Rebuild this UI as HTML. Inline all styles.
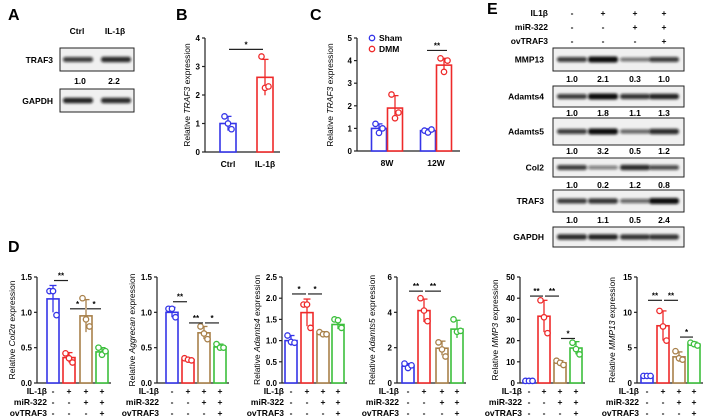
<!DOCTYPE html>
<html><head><meta charset="utf-8">
<style>
html,body{margin:0;padding:0;background:#fff}
svg{display:block;font-family:"Liberation Sans",Arial,sans-serif}
</style></head>
<body>
<svg id="fig" width="710" height="420" viewBox="0 0 710 420" xmlns="http://www.w3.org/2000/svg">
<defs>
<filter id="blur" x="-20%" y="-100%" width="140%" height="300%"><feGaussianBlur stdDeviation="1.2"/></filter>
</defs>
<g font-weight="bold" font-size="16" fill="#000">
<text x="8" y="20">A</text>
<text x="176" y="20">B</text>
<text x="310" y="20">C</text>
<text x="8" y="252">D</text>
<text x="487" y="14">E</text>
</g>
<g id="blots"></g>
<g id="charts"></g>
</svg>
<script>
// ---- data ----
const bCats=["Ctrl","IL-1β"];
const bMeans=[1.0,2.62];
const bPts=[[1.25,1.0,0.8],[3.35,2.25,2.3]];
const bErr=[0.25,0.63];
const cGroups=["8W","12W"];
const cSham=[1.0,0.9];
const cDMM=[1.9,3.8];
const cShamPts=[[1.2,0.8,1.0],[0.9,0.82,0.95]];
const cDMMPts=[[2.5,1.45,1.7],[4.1,3.5,4.0]];
const cShamErr=[0.2,0.08];
const cDMMErr=[0.55,0.3];
const dGenes=["Col2α","Aggrecan","Adamts4","Adamts5","MMP3","MMP13"];
const dMeans=[[1.19,0.36,0.95,0.44],[1.0,0.33,0.71,0.51],[1.0,1.66,1.17,1.38],[0.95,4.1,1.97,3.05],[1.0,31.5,9.5,16.5],[1.0,8.1,3.7,5.5]];
const dPts=[
[[1.3,1.3,0.96],[0.42,0.35,0.29],[1.2,0.9,0.8],[0.5,0.4,0.45]],
[[1.05,1.05,0.93],[0.35,0.33,0.32],[0.8,0.7,0.62],[0.55,0.5,0.5]],
[[1.12,0.97,0.95],[1.85,1.85,1.3],[1.2,1.15,1.15],[1.5,1.48,1.3]],
[[1.1,0.85,1.0],[4.8,4.1,3.5],[2.3,1.9,1.5],[3.6,2.9,2.95]],
[[1,1,1],[39,31,23.5],[10.5,9.5,8.5],[19,16,13.5]],
[[1,1,1],[10.2,8,6],[4.5,3.5,3.3],[5.7,5.5,5.3]]];
const dErr=[[0.19,0.07,0.23,0.06],[0.07,0.02,0.09,0.04],[0.12,0.32,0.04,0.11],[0.15,0.65,0.4,0.5],[0.1,7.5,1,3],[0.2,2.1,0.7,0.3]];
const dMax=[1.5,1.5,2.5,6,50,15];
const dTicks=[[0,0.5,1.0,1.5],[0,0.5,1.0,1.5],[0,0.5,1.0,1.5,2.0,2.5],[0,2,4,6],[0,10,20,30,40,50],[0,5,10,15]];
const dSig=[[[0,1,1.45,"**"],[1,2,1.05,"*"],[2,3,1.05,"*"]],[[0,1,1.15,"**"],[1,2,0.85,"**"],[2,3,0.85,"*"]],[[0,1,2.1,"*"],[1,2,2.1,"*"]],[[0,1,5.2,"**"],[1,2,5.2,"**"]],[[0,1,41,"**"],[1,2,41,"**"],[2,3,21,"*"]],[[0,1,11.7,"**"],[1,2,11.7,"**"],[2,3,6.5,"*"]]];
const eProteins=["MMP13","Adamts4","Adamts5","Col2","TRAF3","GAPDH"];
const eQuant=[[1.0,2.1,0.3,1.0],[1.0,1.8,1.1,1.3],[1.0,3.2,0.5,1.2],[1.0,0.2,1.2,0.8],[1.0,1.1,0.5,2.4],null];
const aQuant=[1.0,2.2];
// ---- layout ----
const NS="http://www.w3.org/2000/svg";
const svg=document.getElementById('fig');
function el(tag,attrs,parent,txt){const e=document.createElementNS(NS,tag);for(const k in attrs)e.setAttribute(k,attrs[k]);if(txt!==undefined)e.textContent=txt;(parent||svg).appendChild(e);return e;}
const COLS=["#3535e8","#ee2a2a","#a8804a","#3cbf3c"];
const charts=document.getElementById('charts');
const blots=document.getElementById('blots');

function axisY(x,y0,y1,max,ticks,g,fmt){
  el('line',{x1:x,y1:y0,x2:x,y2:y1,stroke:'#222','stroke-width':1.2},g);
  ticks.forEach(t=>{const y=y0-(y0-y1)*t/max;
    el('line',{x1:x-3,y1:y,x2:x,y2:y,stroke:'#222','stroke-width':1.2},g);
    const tl=el('text',{x:x-5,y:y+3,'font-size':8,'font-weight':'bold','text-anchor':'end'},g,fmt(t));
    
    
  });
}
function ytitle(x,yc,gene,g){
  const t=el('text',{transform:`translate(${x},${yc}) rotate(-90)`,'font-size':8.5,'text-anchor':'middle'},g);
  
  
  el('tspan',{},t,'Relative ');el('tspan',{'font-style':'italic'},t,gene);el('tspan',{},t,' expression');
}
function barMark(cx,w,y0,ys,color,g,name){
  const r=el('rect',{x:cx-w/2,y:ys,width:w,height:y0-ys,fill:'#fff',stroke:color,'stroke-width':1.6},g);
  
  
}
function errMark(cx,yc,ylo,yhi,color,g){
  el('line',{x1:cx,y1:ylo,x2:cx,y2:yhi,stroke:color,'stroke-width':1.3},g);
  el('line',{x1:cx-3.5,y1:yhi,x2:cx+3.5,y2:yhi,stroke:color,'stroke-width':1.3},g);
}
function pts(cx,vals,sc,color,g){
  const off=[-3.5,0,3.5];
  vals.forEach((v,i)=>{const c=el('circle',{cx:cx+off[i],cy:sc(v),r:2.7,fill:'#fff',stroke:color,'stroke-width':1.3},g);
    
    });
}
function sig(x1,x2,y,lab,g){
  el('line',{x1:x1,y1:y,x2:x2,y2:y,stroke:'#222','stroke-width':1.2},g);
  const t=el('text',{x:(x1+x2)/2,y:y-2,'font-size':8,'text-anchor':'middle','font-weight':'bold'},g,lab);
  
  
}

// ---- Panel B ----
(function(){
  const g=el('g',{},charts);
  const ax=205,y0=152,y1=38,max=4;
  const sc=v=>y0-(y0-y1)*v/max;
  axisY(ax,y0,y1,max,[0,1,2,3,4],g,t=>String(t));
  el('line',{x1:ax,y1:y0,x2:280,y2:y0,stroke:'#222','stroke-width':1.2},g);
  const xs=[228,265];
  bCats.forEach((c,i)=>{
    const col=COLS[i];
    barMark(xs[i],16,y0,sc(bMeans[i]),col,g,'bar-'+c.toLowerCase());
    errMark(xs[i],sc(bMeans[i]),sc(bMeans[i]-bErr[i]),sc(bMeans[i]+bErr[i]),col,g);
    pts(xs[i],bPts[i],sc,col,g);
    const t=el('text',{x:xs[i],y:167,'font-size':8.5,'font-weight':'bold','text-anchor':'middle'},g,c);
    
    
  });
  sig(229,263,sc(3.6),'*',g);
  ytitle(190,95,'TRAF3',g);
})();

// ---- Panel C ----
(function(){
  const g=el('g',{},charts);
  const ax=357,y0=151,y1=38,max=5;
  const sc=v=>y0-(y0-y1)*v/max;
  axisY(ax,y0,y1,max,[0,1,2,3,4,5],g,t=>String(t));
  el('line',{x1:ax,y1:y0,x2:460,y2:y0,stroke:'#222','stroke-width':1.2},g);
  const centers=[387,436];
  cGroups.forEach((gr,i)=>{
    const xs=centers[i]-8,xd=centers[i]+8;
    barMark(xs,15,y0,sc(cSham[i]),COLS[0],g,'bar-sham-'+gr.toLowerCase());
    errMark(xs,0,sc(cSham[i]-cShamErr[i]),sc(cSham[i]+cShamErr[i]),COLS[0],g);
    pts(xs,cShamPts[i],sc,COLS[0],g);
    barMark(xd,15,y0,sc(cDMM[i]),COLS[1],g,'bar-dmm-'+gr.toLowerCase());
    errMark(xd,0,sc(cDMM[i]-cDMMErr[i]),sc(cDMM[i]+cDMMErr[i]),COLS[1],g);
    pts(xd,cDMMPts[i],sc,COLS[1],g);
    const t=el('text',{x:centers[i],y:166,'font-size':8.5,'font-weight':'bold','text-anchor':'middle'},g,gr);
    
    
  });
  sig(427,447,sc(4.45),'**',g);
  ytitle(333,95,'TRAF3',g);
  const lg=el('g',{},g);
  el('circle',{cx:372,cy:38,r:2.7,fill:'#fff',stroke:COLS[0],'stroke-width':1.3},lg);
  el('text',{x:379,y:41,'font-size':8.5,'font-weight':'bold'},lg,'Sham');
  el('circle',{cx:372,cy:49,r:2.7,fill:'#fff',stroke:COLS[1],'stroke-width':1.3},lg);
  el('text',{x:379,y:52,'font-size':8.5,'font-weight':'bold'},lg,'DMM');
})();

// ---- Panel D ----
const dAxisX=[37,157,282,397,520,637];
const dBarX=[[53,69,86,102],[172,188,204,220],[291,307,323,338],[408,424,442,457],[529,544,560,576],[647,663,679,694]];
dGenes.forEach((gene,k)=>{
  const g=el('g',{},charts);
  const ax=dAxisX[k],y0=383,y1=277,max=dMax[k];
  const sc=v=>y0-(y0-y1)*v/max;
  const fmt=(max<=2.5)?(t=>t.toFixed(1)):(t=>String(t));
  axisY(ax,y0,y1,max,dTicks[k],g,fmt);
  el('line',{x1:ax,y1:y0,x2:dBarX[k][3]+9,y2:y0,stroke:'#222','stroke-width':1.2},g);
  for(let i=0;i<4;i++){
    const cx=dBarX[k][i],m=dMeans[k][i],e=dErr[k][i];
    barMark(cx,12,y0,sc(m),COLS[i],g,'bar-'+i);
    errMark(cx,0,sc(m-e),sc(m+e),COLS[i],g);
    pts(cx,dPts[k][i],sc,COLS[i],g);
  }
  dSig[k].forEach(s=>sig(dBarX[k][s[0]]+1,dBarX[k][s[1]]-1,sc(s[2]),s[3],g));
  ytitle(ax-22,330,gene,g);
  const rows=[["IL-1β",["-","+","+","+"]],["miR-322",["-","-","+","+"]],["ovTRAF3",["-","-","-","+"]]];
  rows.forEach((r,ri)=>{
    const y=394+ri*11;
    const t=el('text',{x:ax+(k===0?10:2),y:y,'font-size':8.5,'font-weight':'bold','text-anchor':'end'},g,r[0]);
    
    
    r[1].forEach((s,i)=>{el('text',{x:dBarX[k][i],y:y,'font-size':8.5,'font-weight':'bold','text-anchor':'middle'},g,s);});
  });
});

// ---- Blots ----
function blot(x,y,w,h,lanes,intens,name){
  const g=el('g',{},blots);
  
  
  el('rect',{x:x,y:y,width:w,height:h,fill:'#f0f0f0',stroke:'#222','stroke-width':1},g);
  lanes.forEach((lx,i)=>{
    const a=Math.min(1,0.45+0.35*intens[i]);
    const bh=3.5+1.6*Math.min(intens[i],1.6);
    el('rect',{x:lx-15,y:y+h/2-bh/2,width:30,height:bh,rx:2.5,fill:'#111','fill-opacity':a,filter:'url(#blur)'},g);
  });
}
// Panel A
[["Ctrl",77],["IL-1β",115]].forEach(c=>{const t=el('text',{x:c[1],y:34,'font-size':8.5,'font-weight':'bold','text-anchor':'middle'},blots,c[0]);});
el('text',{x:53,y:63,'font-size':8.5,'font-weight':'bold','text-anchor':'end'},blots,'TRAF3');
el('text',{x:53,y:104,'font-size':8.5,'font-weight':'bold','text-anchor':'end'},blots,'GAPDH');
blot(60,48,74,23,[78,116],[1,1.2],'blot-a-traf3');
blot(60,89,74,23,[78,116],[1.3,1.2],'blot-a-gapdh');
aQuant.forEach((q,i)=>el('text',{x:[80,114][i],y:84,'font-size':8.5,'font-weight':'bold','text-anchor':'middle'},blots,q.toFixed(1)));
// Panel E
const eLanes=[572,603,635,664];
[["IL1β",["-","+","+","+"]],["miR-322",["-","-","+","+"]],["ovTRAF3",["-","-","-","+"]]].forEach((r,ri)=>{
  const y=16+ri*14;
  const t=el('text',{x:548,y:y,'font-size':8.5,'font-weight':'bold','text-anchor':'end'},blots,r[0]);
  
  
  r[1].forEach((s,i)=>el('text',{x:eLanes[i],y:y,'font-size':8.5,'font-weight':'bold','text-anchor':'middle'},blots,s));
});
const eBox=[[48,23],[86,21],[118,27],[158,19],[190,22],[227,20]];
const eNumY=[82,116,154,188,223];
eProteins.forEach((p,k)=>{
  const [y,h]=eBox[k];
  const t=el('text',{x:544,y:y+h/2+3,'font-size':8.5,'font-weight':'bold','text-anchor':'end'},blots,p);
  
  
  const q=eQuant[k]||[1.2,1.3,1.1,1.1];
  blot(553,y,131,h,eLanes,q.map(v=>Math.min(1.6,v)),'blot-e-'+p.toLowerCase());
  if(eQuant[k]) eQuant[k].forEach((v,i)=>el('text',{x:eLanes[i],y:eNumY[k],'font-size':8.5,'font-weight':'bold','text-anchor':'middle'},blots,v.toFixed(1)));
});
</script>
</body></html>
